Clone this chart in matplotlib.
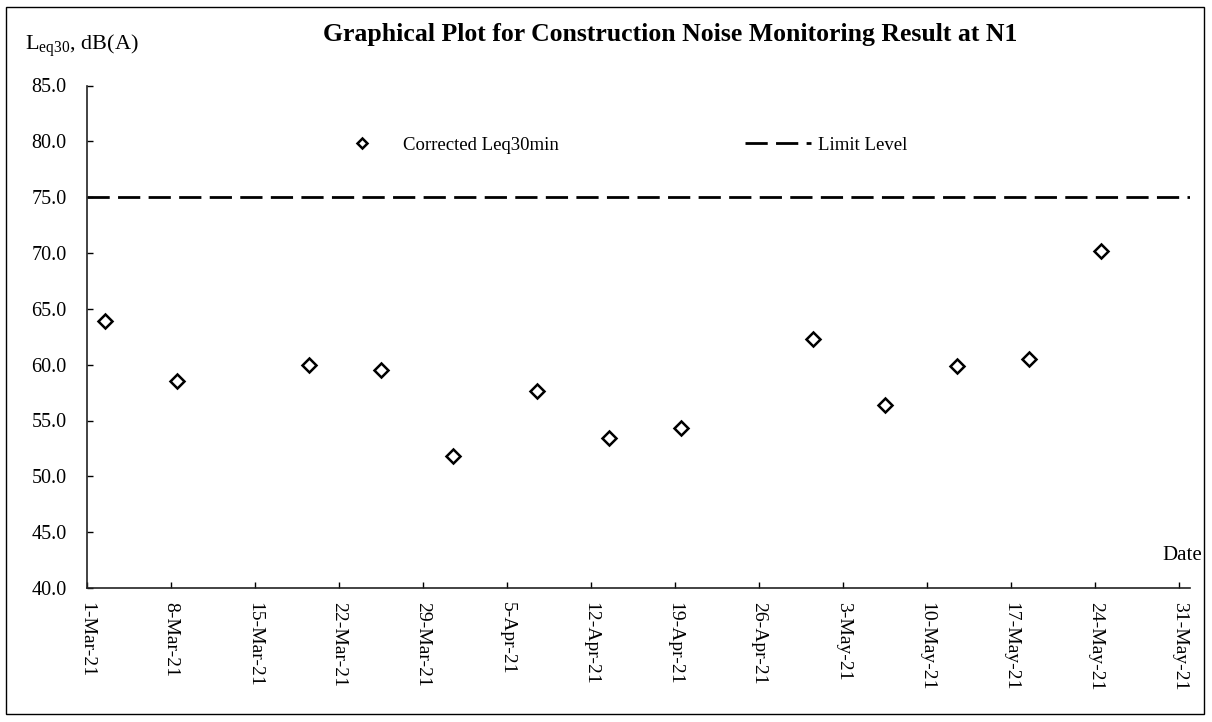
import matplotlib
matplotlib.use("Agg")
import matplotlib.pyplot as plt
import matplotlib.dates as mdates
from matplotlib.ticker import FuncFormatter, FixedLocator
from matplotlib.lines import Line2D
from matplotlib.patches import Rectangle
import datetime as dt

# ---- data ----
dates = ["2021-03-02 12:00", "2021-03-08 12:00", "2021-03-19 12:00", "2021-03-25 12:00",
         "2021-03-31 12:00", "2021-04-07 12:00", "2021-04-13 12:00", "2021-04-19 12:00",
         "2021-04-30 12:00", "2021-05-06 12:00", "2021-05-12 12:00", "2021-05-18 12:00",
         "2021-05-24 12:00"]
leq = [63.9, 58.5, 60.0, 59.5, 51.8, 57.6, 53.4, 54.3, 62.3, 56.4, 59.9, 60.5, 70.2]
limit_level = 75.0
tick_dates = ["2021-03-01", "2021-03-08", "2021-03-15", "2021-03-22", "2021-03-29",
              "2021-04-05", "2021-04-12", "2021-04-19", "2021-04-26", "2021-05-03",
              "2021-05-10", "2021-05-17", "2021-05-24", "2021-05-31"]
y_ticks = [40, 45, 50, 55, 60, 65, 70, 75, 80, 85]

plt.rcParams['font.family'] = ['Liberation Serif', 'DejaVu Serif']
plt.rcParams['mathtext.fontset'] = 'custom'
plt.rcParams['mathtext.rm'] = 'Liberation Serif'

x = [dt.datetime.strptime(d, "%Y-%m-%d %H:%M") for d in dates]
xt = [dt.datetime.strptime(d, "%Y-%m-%d") for d in tick_dates]

W, H = 1212, 722
fig = plt.figure(figsize=(W / 100, H / 100), dpi=100)
ax_l, ax_r, ax_t, ax_b = 87, 1190, 85.5, 588
ax = fig.add_axes([ax_l / W, 1 - ax_b / H, (ax_r - ax_l) / W, (ax_b - ax_t) / H])

ax.plot(x, leq, linestyle='none', marker='D', markersize=7, markerfacecolor='white',
        markeredgecolor='black', markeredgewidth=1.8, zorder=3)
ax.axhline(limit_level, color='black', linewidth=2, dashes=(8, 3), zorder=2)

ax.set_xlim(xt[0], xt[-1] + dt.timedelta(days=0.9))
ax.set_ylim(40, 85)
ax.xaxis.set_major_locator(FixedLocator(mdates.date2num(xt)))
ax.xaxis.set_major_formatter(FuncFormatter(
    lambda v, p: (lambda d: f"{d.day}-{d.strftime('%b')}-{d.strftime('%y')}")(mdates.num2date(v))))
ax.set_yticks(y_ticks)
ax.yaxis.set_major_formatter(FuncFormatter(lambda v, p: f"{v:.1f}"))

for s in ['top', 'right']:
    ax.spines[s].set_visible(False)
for s in ['left', 'bottom']:
    ax.spines[s].set_linewidth(1.2)
    ax.spines[s].set_color('#222222')

ax.tick_params(axis='both', direction='in', length=4.5, width=1, colors='black')
ax.tick_params(axis='y', pad=14.5, labelsize=14.5)
ax.tick_params(axis='x', pad=10, labelsize=14)
for lbl in ax.get_xticklabels():
    lbl.set_rotation(270)
    lbl.set_va('top')
    lbl.set_ha('center')

fig.text(670 / W, 1 - 34 / H, "Graphical Plot for Construction Noise Monitoring Result at N1",
         ha='center', va='center', fontsize=18.5, fontweight='bold')
fig.text(25 / W, 1 - 46 / H, r"$\mathrm{L_{eq30}}$, dB(A)", ha='left', va='center', fontsize=16)
fig.text(1202 / W, 1 - 555 / H, "Date", ha='right', va='center', fontsize=15)

leg_y = (ax_b - 145) / (ax_b - ax_t)
h1 = Line2D([], [], linestyle='none', marker='D', markersize=5.5, markerfacecolor='white',
            markeredgecolor='black', markeredgewidth=1.8)
h2 = Line2D([], [], color='black', linewidth=2, dashes=(8, 3))
leg1 = ax.legend([h1], ["Corrected Leq30min"], loc='center left',
                 bbox_to_anchor=((343 - ax_l) / (ax_r - ax_l), leg_y),
                 frameon=False, fontsize=13.5, handletextpad=1.19, handlelength=2,
                 borderaxespad=0, borderpad=0)
ax.add_artist(leg1)
ax.legend([h2], ["Limit Level"], loc='center left',
          bbox_to_anchor=((745 - ax_l) / (ax_r - ax_l), leg_y),
          frameon=False, fontsize=13.5, handletextpad=0.37, handlelength=3.5,
          borderaxespad=0, borderpad=0)

fig.add_artist(Rectangle((6 / W, 8 / H), 1 - 14 / W, 1 - 15 / H, transform=fig.transFigure,
                         fill=False, edgecolor='black', linewidth=1))

fig.savefig("out.png", dpi=100)
